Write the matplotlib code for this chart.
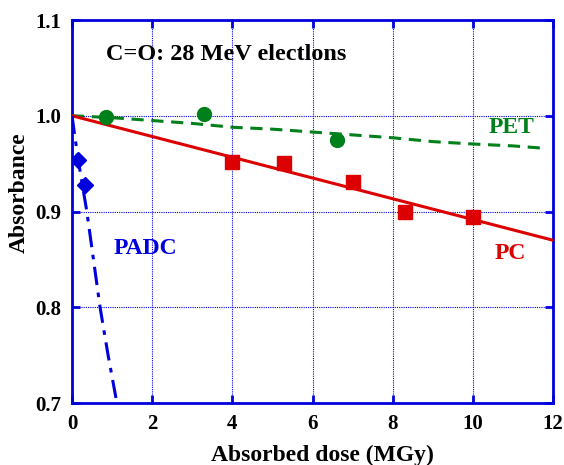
import matplotlib
matplotlib.use("Agg")
from matplotlib import pyplot as plt

plt.rcParams['font.family'] = ['Liberation Serif', 'DejaVu Serif']
plt.rcParams['font.weight'] = 'bold'

# measured points
pet_dose = [0.85, 3.3, 6.6]
pet_abs = [0.999, 1.002, 0.975]
pc_dose = [4.0, 5.3, 7.0, 8.3, 10.0]
pc_abs = [0.952, 0.951, 0.931, 0.900, 0.894]
padc_dose = [0.15, 0.32]
padc_abs = [0.954, 0.928]

# fitted curves
pet_fit_dose = [0, 1, 2, 3, 4, 5, 6, 7, 8, 9, 10, 11, 11.8]
pet_fit_abs = [1.0, 0.998, 0.995, 0.992, 0.988, 0.986, 0.983, 0.980, 0.977, 0.973, 0.9705, 0.9685, 0.966]
pc_fit_dose = [0, 12]
pc_fit_abs = [1.0, 0.870]
padc_fit_dose = [0, 0.15, 0.37, 0.7, 0.9, 1.12]
padc_fit_abs = [1.0, 0.955, 0.9, 0.8, 0.75, 0.7]

red = '#dd0000'
green = '#00801a'
blue = '#0000dd'

fig = plt.figure(figsize=(5.64, 4.65), dpi=100)
ax = fig.add_axes([72 / 564, 1 - 403 / 465, (553 - 72) / 564, (403 - 20) / 465])

ax.plot(pet_fit_dose, pet_fit_abs, color=green, lw=2.2, ls=(0, (4, 2.5)), zorder=3)
ax.plot(pc_fit_dose, pc_fit_abs, color=red, lw=2.2, zorder=3)
ax.plot(padc_fit_dose, padc_fit_abs, color=blue, lw=2.2, ls=(0, (6, 2.5, 1.5, 2.5)), zorder=3)

ax.plot(pet_dose, pet_abs, 'o', color=green, ms=10, zorder=4)
ax.plot(pc_dose, pc_abs, 's', color=red, ms=9.5, zorder=4)
ax.plot(padc_dose, padc_abs, 'D', color=blue, ms=8.5, zorder=4)

ax.set_xlim(0, 12)
ax.set_ylim(0.7, 1.1)
ax.set_xticks([0, 2, 4, 6, 8, 10, 12])
ax.set_yticks([0.7, 0.8, 0.9, 1.0, 1.1])
ax.set_yticklabels(['0.7', '0.8', '0.9', '1.0', '1.1'])

for s in ax.spines.values():
    s.set_color(blue)
    s.set_linewidth(2)
ax.tick_params(direction='in', length=6, width=2, color=blue, top=True, right=True,
               labelsize=15, pad=8)
ax.grid(True, color=blue, ls=(0, (1, 1)), lw=0.8)

ax.set_xlabel('Absorbed dose (MGy)', fontsize=17, fontweight='bold')
ax.set_ylabel('Absorbance', fontsize=17, fontweight='bold')
ax.xaxis.set_label_coords(0.52, -0.108)
ax.yaxis.set_label_coords(-0.088, 0.548)

ax.text(0.85, 1.064, 'C=O: 28 MeV electlons', fontsize=17.5, fontweight='bold', color='black', va='center')
ax.text(10.4, 0.988, 'PET', fontsize=17, fontweight='bold', color=green, va='center')
ax.text(10.55, 0.856, 'PC', fontsize=17, fontweight='bold', color=red, va='center')
ax.text(1.05, 0.861, 'PADC', fontsize=17, fontweight='bold', color=blue, va='center')

plt.savefig('out.png', dpi=100)
